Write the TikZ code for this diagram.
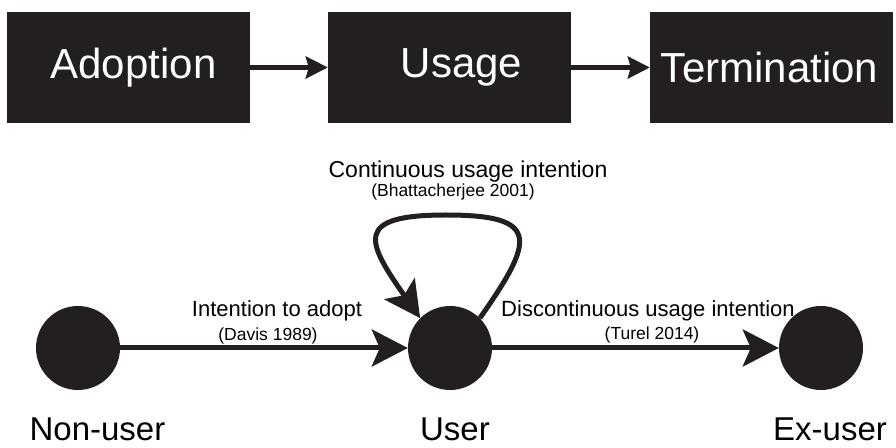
\documentclass[tikz,border=0pt]{standalone}
\usepackage{fontspec}
\setmainfont{Liberation Sans}
\usetikzlibrary{arrows.meta}
\definecolor{ink}{HTML}{231F20}
\tikzset{
	stagebox/.style={fill=ink, minimum width=243pt, minimum height=111pt, inner sep=0pt},
	stagetext/.style={text=white, inner sep=0pt, font=\fontsize{42}{42}\selectfont},
	userdot/.style={circle, fill=ink, minimum size=84pt, inner sep=0pt},
	dotname/.style={anchor=base, inner sep=0pt, font=\fontsize{33}{33}\selectfont},
	pathname/.style={anchor=base, inner sep=0pt, font=\fontsize{22}{22}\selectfont},
	pathcite/.style={anchor=base, inner sep=0pt, font=\fontsize{17.5}{17.5}\selectfont},
	stagearrow/.style={draw=ink, line width=4.3pt, -{Stealth[length=22pt,width=22pt,inset=3pt]}},
	userarrow/.style={draw=ink, line width=5pt, -{Stealth[length=36pt,width=37pt,inset=8pt]}}
}
\begin{document}
\begin{tikzpicture}[x=1pt,y=1pt]
		\useasboundingbox (0,0) rectangle (896,447);

		% stages
		\node [stagebox] (Adoption) at (128.5,379.5) {};
		\node [stagebox] (Usage) at (449.5,379.5) {};
		\node [stagebox] (Termination) at (771.5,379.5) {};
		\node [stagetext] (AdoptionText) at ([xshift=5pt]Adoption.center) {Adoption};
		\node [stagetext] (UsageText) at ([xshift=12pt]Usage.center) {Usage};
		\node [stagetext] (TerminationText) at ([xshift=-2pt]Termination.center) {Termination};

		\draw [stagearrow] (Adoption) -- (Usage);
		\draw [stagearrow] (Usage) -- (Termination);

		% users
		\node [userdot] (NonUser) at (78,99) {};
		\node [userdot] (User) at (450,99) {};
		\node [userdot] (ExUser) at (821,99) {};
		\node [dotname] (NonUserName) at (97.5,7) {Non-user};
		\node [dotname] (UserName) at (455,7) {User};
		\node [dotname] (ExUserName) at (830,7) {Ex-user};

		\coordinate (LoopTop) at (446,232);

		\draw [userarrow] (NonUser) -- (User);
		\draw [userarrow] (User) -- (ExUser);
		\draw [userarrow] (User.45) to[out=55,in=0,looseness=2.25] (LoopTop)
			to[out=180,in=125,looseness=2.25] (User.135);

		\node [pathname, font=\fontsize{23}{23}\selectfont] (LoopName) at (468,269) {Continuous usage intention};
		\node [pathcite] (LoopCite) at (453,250) {(Bhattacherjee 2001)};
		\node [pathname] (AdoptName) at (277,130) {Intention to adopt};
		\node [pathcite] (AdoptCite) at (268,106) {(Davis 1989)};
		\node [pathname] (QuitName) at (648,130) {Discontinuous usage intention};
		\node [pathcite] (QuitCite) at (652,107) {(Turel 2014)};
	\end{tikzpicture}
\end{document}
